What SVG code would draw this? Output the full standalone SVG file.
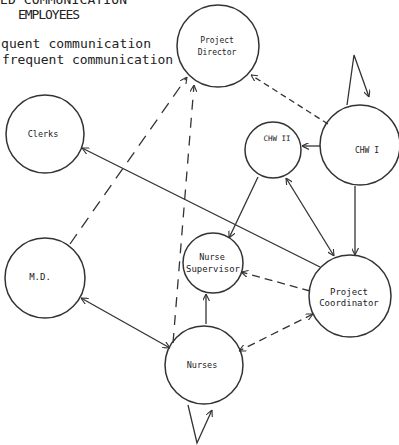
<svg xmlns="http://www.w3.org/2000/svg" width="399" height="445" viewBox="0 0 399 445">
<defs>
<marker id="arr" viewBox="0 0 10 10" refX="10" refY="5" markerWidth="7" markerHeight="7" markerUnits="userSpaceOnUse" orient="auto-start-reverse">
<path d="M0,0 L10,5 L0,10" fill="none" stroke="#333" stroke-width="1.6"/>
</marker>
<style>
.n{fill:none;stroke:#333;stroke-width:1.5}
.t{font-family:"DejaVu Sans Mono","Liberation Mono",monospace;fill:#222;text-anchor:middle}
.c{fill:none;stroke:#333;stroke-width:1.3}
.h{font-family:"DejaVu Sans Mono","Liberation Mono",monospace;fill:#222;font-size:13px}
</style>
</defs>
<rect width="399" height="445" fill="#fff"/>
<g id="legend">
<text class="h" x="0" y="4" textLength="127">ED COMMUNICATION</text>
<text class="h" x="18" y="19" textLength="62">EMPLOYEES</text>
<text class="h" x="1" y="48" textLength="150">quent communication</text>
<text class="h" x="2" y="64" textLength="171">frequent communication</text>
</g>
<g id="connectors">
<path class="c" d="M347,105 L354,55 L369,97" marker-end="url(#arr)"/>
<path class="c" d="M328,124 L251,75" stroke-dasharray="6,4" marker-end="url(#arr)"/>
<path class="c" d="M320,146 L302,146" marker-end="url(#arr)"/>
<path class="c" d="M355,186 L355,255" marker-end="url(#arr)"/>
<path class="c" d="M286,178 L334,256" marker-start="url(#arr)" marker-end="url(#arr)"/>
<path class="c" d="M258,177 L229,238" marker-end="url(#arr)"/>
<path class="c" d="M320,267 L82,148" marker-end="url(#arr)"/>
<path class="c" d="M310,291 L241,272" stroke-dasharray="8,5" marker-end="url(#arr)"/>
<path class="c" d="M313,314 L239,351" stroke-dasharray="8,5" marker-start="url(#arr)" marker-end="url(#arr)"/>
<path class="c" d="M206,324 L206,294" marker-end="url(#arr)"/>
<path class="c" d="M81,298 L170,348" marker-start="url(#arr)" marker-end="url(#arr)"/>
<path class="c" d="M70,244 L187,77" stroke-dasharray="12,8" marker-end="url(#arr)"/>
<path class="c" d="M173,343 L194,85" stroke-dasharray="10,8" marker-end="url(#arr)"/>
<path class="c" d="M188,405 L197,443 L212,410" marker-end="url(#arr)"/>
</g>
<g id="project-director">
<circle class="n" cx="218" cy="46" r="41"/>
<text class="t" x="217" y="43" font-size="8">Project</text>
<text class="t" x="217" y="55" font-size="8">Director</text>
</g>
<g id="clerks">
<circle class="n" cx="45" cy="134" r="39"/>
<text class="t" x="43" y="137" font-size="8.5">Clerks</text>
</g>
<g id="chw-ii">
<circle class="n" cx="273" cy="150" r="28"/>
<text class="t" x="277" y="141" font-size="7.5">CHW II</text>
</g>
<g id="chw-i">
<circle class="n" cx="360" cy="145" r="40"/>
<text class="t" x="367" y="153" font-size="8">CHW I</text>
</g>
<g id="md">
<circle class="n" cx="45" cy="278" r="40"/>
<text class="t" x="40" y="280" font-size="9">M.D.</text>
</g>
<g id="nurse-supervisor">
<circle class="n" cx="213" cy="263" r="30"/>
<text class="t" x="212" y="260" font-size="8.5">Nurse</text>
<text class="t" x="213" y="272" font-size="8.5" textLength="54" lengthAdjust="spacingAndGlyphs">Supervisor</text>
</g>
<g id="project-coordinator">
<circle class="n" cx="350" cy="296" r="41"/>
<text class="t" x="349" y="295" font-size="9">Project</text>
<text class="t" x="349" y="306" font-size="9">Coordinator</text>
</g>
<g id="nurses">
<circle class="n" cx="204" cy="365" r="39"/>
<text class="t" x="202" y="368" font-size="8.5">Nurses</text>
</g>
</svg>
